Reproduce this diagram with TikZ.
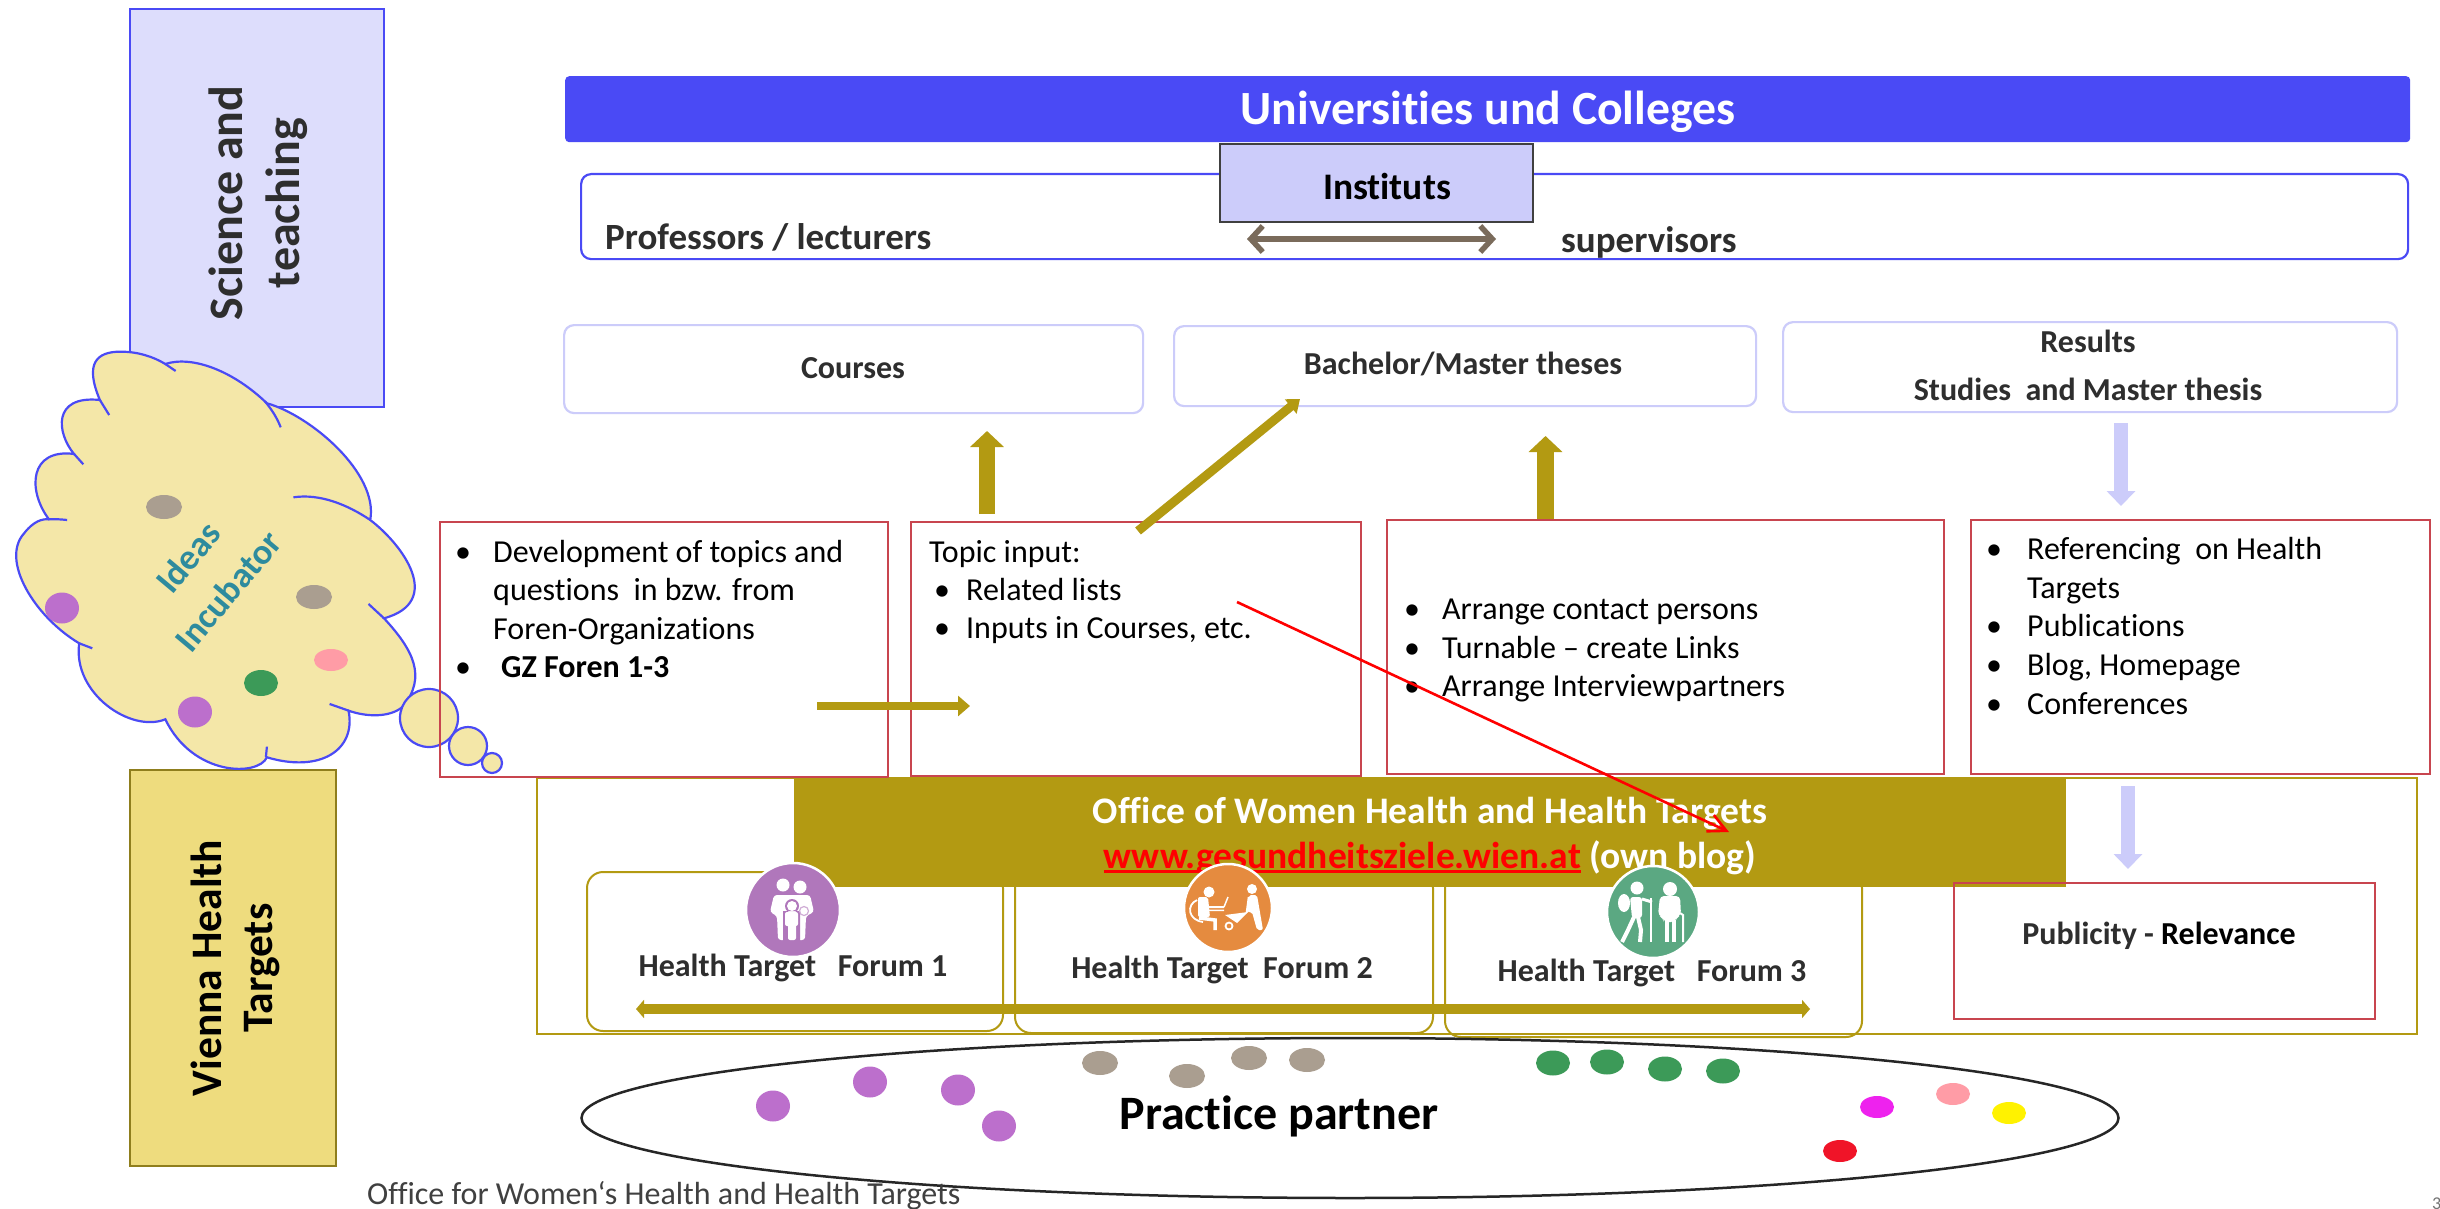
\documentclass[tikz,border=0pt]{standalone}
\usepackage{fontspec}
\setmainfont[Ligatures=NoCommon]{Carlito}
\usetikzlibrary{arrows.meta,shapes.geometric}
\definecolor{cblue}{HTML}{4A4AF5}
\definecolor{clav}{HTML}{CCCCFA}
\definecolor{csci}{HTML}{DDDDFC}
\definecolor{cvie}{HTML}{EEDC7E}
\definecolor{cviel}{HTML}{8F7E1D}
\definecolor{ccloud}{HTML}{F4E7A8}
\definecolor{colive}{HTML}{B39A12}
\definecolor{cred}{HTML}{C8454F}
\definecolor{cgray}{HTML}{AA9E90}
\definecolor{cpurple}{HTML}{BC6FCC}
\definecolor{cgreen}{HTML}{3C9A58}
\definecolor{cpink}{HTML}{FF9CA6}
\definecolor{cdark}{HTML}{2E2E2E}
\definecolor{cteal}{HTML}{2E8B9E}
\definecolor{cbrown}{HTML}{7A6B5B}
\definecolor{ciconp}{HTML}{B077BB}
\definecolor{cicono}{HTML}{E58B3F}
\definecolor{ciconv}{HTML}{5BA882}
\definecolor{cmag}{HTML}{EE22EE}
\definecolor{cbrred}{HTML}{F01428}
\newcommand\bul[1]{\makebox[#1][l]{\textbullet}}
\newcommand\fs[2]{\fontsize{#1}{#2}\selectfont}
\newcommand\thickul[1]{\setbox0\hbox{#1}\rlap{\rule[-5pt]{\wd0}{3pt}}\box0}
\tikzset{
 x=1pt,y=-1pt,
 lbl/.style={inner sep=0pt,font=\bfseries\fs{32}{48},text=cdark,align=center},
 body/.style={inner sep=0pt,anchor=north west,align=left,font=\fs{32}{38.3},text=black},
 redbox/.style={draw=cred,line width=2.2pt,fill=none},
 softbox/.style={draw=clav,line width=2.2pt,rounded corners=10pt},
 fbox/.style={draw=colive,line width=2pt,rounded corners=16pt},
 blockup/.style={line width=16.5pt,draw=colive,-{Triangle[length=16pt,width=33pt]}},
 blocklav/.style={line width=14pt,draw=clav,-{Triangle[length=15pt,width=28pt]}},
 cloudline/.style={draw=cblue,line width=2.2pt},
 bub/.style={circle,inner sep=0pt,fill=ccloud,draw=cblue,line width=2.2pt},
 icon/.style={circle,inner sep=0pt,draw=white,line width=2.5pt},
 ftxt/.style={inner sep=0pt,font=\bfseries\fs{32}{36},text=cdark},
}
\newcommand\D[5]{\path[fill=#5] (#1,#2) ellipse [x radius=#3,y radius=#4];}
\begin{document}
\begin{tikzpicture}
\useasboundingbox (0,0) rectangle (2440,1209);
\fill[white] (0,0) rectangle (2440,1209);
% left label boxes
\node[draw=cblue,line width=2pt,fill=csci,minimum width=254pt,minimum height=398pt,inner sep=0pt,anchor=north west] (sci) at (129,8) {};
\node[lbl,font=\bfseries\fs{48}{57},rotate=90] (scit) at (258,203) {Science and\\teaching};
\node[draw=cviel,line width=2pt,fill=cvie,minimum width=206pt,minimum height=396pt,inner sep=0pt,anchor=north west] (vie) at (129,769) {};
\node[lbl,font=\bfseries\fs{43.5}{51},text=black,rotate=90] (viet) at (235,968) {Vienna Health\\Targets};
% cloud
\begin{scope}[shift={(0,300)},xscale=0.3444,yscale=0.3333]
\path[fill=ccloud,cloudline]
 (140,655) .. controls (80,570) and (85,445) .. (215,462)
 .. controls (165,400) and (150,285) .. (290,300)
 .. controls (245,190) and (280,155) .. (350,155)
 .. controls (400,155) and (445,170) .. (480,192)
 .. controls (560,165) and (680,215) .. (775,310)
 .. controls (900,345) and (1100,520) .. (1075,660)
 .. controls (1170,735) and (1290,905) .. (1115,955)
 .. controls (1200,1050) and (1240,1130) .. (1170,1220)
 .. controls (1130,1255) and (1060,1250) .. (1012,1232)
 .. controls (1035,1350) and (930,1420) .. (775,1372)
 .. controls (750,1430) and (560,1430) .. (480,1258)
 .. controls (380,1300) and (210,1180) .. (230,1030)
 .. controls (100,950) and (0,780) .. (70,700)
 .. controls (85,680) and (110,655) .. (140,658) -- cycle;
\draw[cloudline] (140,658) .. controls (160,657) and (175,658) .. (195,660);
\draw[cloudline] (215,462) -- (242,493);
\draw[cloudline] (290,300) -- (317,345);
\draw[cloudline] (480,192) -- (510,213);
\draw[cloudline] (770,305) .. controls (790,330) and (805,355) .. (815,382);
\draw[cloudline] (852,592) .. controls (930,580) and (1010,615) .. (1075,660);
\draw[cloudline] (1070,912) -- (1115,955);
\draw[cloudline] (957,1212) -- (1012,1232);
\draw[cloudline] (775,1340) -- (772,1372);
\draw[cloudline] (230,1030) -- (268,1045);
\end{scope}
\node[bub,minimum size=58pt] (b1) at (429,718) {};
\node[bub,minimum size=38pt] (b2) at (468,746) {};
\node[bub,minimum size=20pt] (b3) at (492,763) {};
\D{164}{507}{18}{12}{cgray}\D{314}{597}{18}{12}{cgray}\D{331}{660}{17}{11}{cpink}
\D{261}{683}{17}{13}{cgreen}\D{195}{712}{17}{15.5}{cpurple}\D{62}{608}{17}{15.5}{cpurple}
\node[inner sep=0pt,align=center,text=cteal,font=\bfseries\fs{36}{52},rotate=50] (idea) at (208,574) {Ideas\\Incubator};
% header
\node[fill=cblue,rounded corners=4pt,minimum width=1845pt,minimum height=66pt,inner sep=0pt,anchor=north west] (uni) at (565,76) {};
\node[inner sep=0pt,text=white,font=\bfseries\fs{47.7}{50}] (unit) at (1488,112) {Universities und Colleges};
\node[draw=cblue,line width=2.2pt,rounded corners=10pt,minimum width=1827pt,minimum height=85pt,inner sep=0pt,anchor=north west] (prof) at (580,173) {};
\node[draw=black!75,line width=2pt,fill=clav,minimum width=313pt,minimum height=78pt,inner sep=0pt,anchor=north west] (inst) at (1219,143) {};
\node[lbl,text=black,font=\bfseries\fs{37.5}{40}] (instt) at (1387,186) {Instituts};
\node[lbl,font=\bfseries\fs{37}{40},anchor=mid west] (proft) at (605,247) {Professors / lecturers};
\node[lbl,font=\bfseries\fs{37}{40},anchor=mid west] (supt) at (1561,250) {supervisors};
\coordinate (dl) at (1247,239); \coordinate (dr) at (1496,239);
\draw[draw=cbrown,line width=5.5pt,{Straight Barb[length=12pt,width=26pt,line width=5.5pt]}-{Straight Barb[length=12pt,width=26pt,line width=5.5pt]}] (dl) -- (dr);
% soft boxes
\node[softbox,minimum width=579pt,minimum height=88pt,inner sep=0pt,anchor=north west] (cou) at (563,324) {};
\node[lbl] (coutxt) at (853,368) {Courses};
\node[softbox,minimum width=582pt,minimum height=80pt,inner sep=0pt,anchor=north west] (bac) at (1173,325) {};
\node[lbl] (bactxt) at (1463,364) {Bachelor/Master theses};
\node[softbox,minimum width=614pt,minimum height=90pt,inner sep=0pt,anchor=north west] (res) at (1782,321) {};
\node[lbl] (restxt) at (2088,365) {Results\\Studies\ \ and Master thesis};
% office frame
\node[draw=colive,line width=2pt,minimum width=1880pt,minimum height=256pt,inner sep=0pt,anchor=north west] (off) at (536,777) {};
\node[fbox,minimum width=416pt,minimum height=159pt,inner sep=0pt,anchor=north west] (f1) at (586,871) {};
\node[fbox,minimum width=418pt,minimum height=161pt,inner sep=0pt,anchor=north west] (f2) at (1014,871) {};
\node[fbox,minimum width=417pt,minimum height=165pt,inner sep=0pt,anchor=north west] (f3) at (1444,871) {};
\node[fill=colive,minimum width=1272pt,minimum height=110pt,inner sep=0pt,anchor=north west] (ban) at (794,777) {};
\node[inner sep=0pt,align=center,font=\bfseries\fs{37.5}{45},text=white] (bant) at (1430,836) {Office of Women Health and Health Targets\\{\color{red}\thickul{www.gesundheitsziele.wien.at}} (own blog)};
% red boxes
\node[redbox,minimum width=448pt,minimum height=255pt,inner sep=0pt,anchor=north west] (r1) at (439,521) {};
\node[redbox,minimum width=450pt,minimum height=254pt,inner sep=0pt,anchor=north west] (r2) at (910,521) {};
\node[redbox,minimum width=557pt,minimum height=254pt,inner sep=0pt,anchor=north west] (r3) at (1386,519) {};
\node[redbox,minimum width=459pt,minimum height=254pt,inner sep=0pt,anchor=north west] (r4) at (1970,519) {};
\node[redbox,minimum width=421pt,minimum height=136pt,inner sep=0pt,anchor=north west] (pub) at (1953,882) {};
\node[inner sep=0pt,font=\bfseries\fs{32}{36},text=cdark] (pubt) at (2159,936) {Publicity - \textcolor{black}{Relevance}};
\node[body] (r1t) at (455,540) {\bul{38pt}Development of topics and\\\hspace*{38pt}questions\ \ in bzw. from\\\hspace*{38pt}Foren-Organizations\\\bul{38pt}\hspace*{8pt}\textbf{GZ Foren 1-3}};
\node[body] (r2t) at (929,540) {Topic input:\\\hspace*{5pt}\bul{32pt}Related lists\\\hspace*{5pt}\bul{32pt}Inputs in Courses, etc.};
\node[body] (r3t) at (1404,599) {\bul{38pt}Arrange contact persons\\\bul{38pt}Turnable – create Links\\\bul{38pt}Arrange Interviewpartners};
\node[body,font=\fs{32}{38.7}] (r4t) at (1986,537) {\bul{41pt}Referencing\ \ on Health\\\hspace*{41pt}Targets\\\bul{41pt}Publications\\\bul{41pt}Blog, Homepage\\\bul{41pt}Conferences};
% arrows
\coordinate (a1s) at (987,514); \coordinate (a1e) at (987,431);
\coordinate (a2s) at (1545.5,519); \coordinate (a2e) at (1545.5,436);
\draw[blockup] (a1s) -- (a1e);
\draw[blockup] (a2s) -- (a2e);
\coordinate (a3s) at (1138,531); \coordinate (a3e) at (1300,399);
\draw[line width=9pt,draw=colive,-{Triangle[length=12pt,width=18pt]}] (a3s) -- (a3e);
\coordinate (a4s) at (817,706); \coordinate (a4e) at (970,706);
\draw[line width=8pt,draw=colive,-{Triangle[length=12pt,width=20pt]}] (a4s) -- (a4e);
\coordinate (a5s) at (2121,423); \coordinate (a5e) at (2121,506);
\draw[blocklav] (a5s) -- (a5e);
\coordinate (a6s) at (2128,786); \coordinate (a6e) at (2128,869);
\draw[blocklav] (a6s) -- (a6e);
\coordinate (a7s) at (636,1009); \coordinate (a7e) at (1810,1009);
\draw[line width=10pt,draw=colive,{Triangle[length=8pt,width=18pt]}-{Triangle[length=8pt,width=18pt]}] (a7s) -- (a7e);
\coordinate (a8s) at (1237,602); \coordinate (a8e) at (1729,832);
\draw[line width=2.6pt,draw=red,-{Straight Barb[length=18pt,width=18pt]}] (a8s) -- (a8e);
% icons
\node[icon,fill=ciconp,minimum size=94pt] (i1) at (793,910) {};
\node[icon,fill=cicono,minimum size=88pt] (i2) at (1228,908) {};
\node[icon,fill=ciconv,minimum size=92pt] (i3) at (1653,912) {};
\begin{scope}[white]
 % family
 \fill (783,885) circle (6.5); \fill (800,887) circle (6.5);
 \fill[rounded corners=3pt] (774,895) -- (810,895) -- (814,912) -- (806,916) -- (805,940) -- (778,940) -- (777,916) -- (770,912) -- cycle;
 \fill[ciconp] (792,906) circle (7) (783,911) rectangle (800,941);
 \fill (792,906) circle (5);
 \fill[rounded corners=2pt] (785,912) rectangle (798,926) (788,924) rectangle (796,940);
 \draw[ciconp!60!white,line width=1.2pt] (804,911) circle (4.5);
 % worker and wheelbarrow
 \fill (1209,892) circle (5.5); \fill (1252,889) circle (5);
 \fill[rounded corners=2pt] (1198,897) -- (1208,897) -- (1210,917) -- (1198,917) -- cycle;
 \fill (1208,906) rectangle (1224,908) (1208,909.5) rectangle (1224,911);
 \draw[line width=1.5pt] (1224,907) -- (1228,897);
 \draw[line width=3.5pt] (1199,918) -- (1215,920) -- (1215,930);
 \draw[line width=1.8pt] (1197,900) .. controls (1186,905) and (1188,920) .. (1203,922);
 \fill[rounded corners=2pt] (1249,895) -- (1257,895) -- (1263,930) -- (1257,930) -- (1252,912) -- (1247,912) -- cycle;
 \draw[line width=2.5pt] (1249,897) -- (1247,912);
 \fill (1225,915) -- (1248,912) -- (1237,923) -- cycle;
 \draw[line width=1.8pt] (1229,926) circle (3.5);
 \draw[line width=1.5pt] (1246,913) -- (1251,905);
 % walkers
 \fill (1637,888) circle (6.5); \fill (1670,889) circle (7);
 \fill (1624,903) ellipse [x radius=6,y radius=9];
 \fill[rounded corners=3pt] (1630,897) -- (1642,897) -- (1642,918) -- (1632,918) -- cycle;
 \draw[line width=4pt] (1634,917) -- (1628,930) -- (1622,942) (1638,917) -- (1641,930) -- (1640,942);
 \draw[line width=3pt] (1642,899) -- (1652,902);
 \draw[line width=2pt] (1651,898) -- (1651,942);
 \fill[rounded corners=4pt] (1660,896) -- (1680,896) -- (1681,915) -- (1676,918) -- (1675,922) -- (1664,922) -- (1663,918) -- (1658,915) -- cycle;
 \draw[line width=4pt] (1667,920) -- (1667,942) (1674,920) -- (1674,942);
 \draw[line width=2pt] (1680,913) -- (1683,915) -- (1683,942);
\end{scope}
\node[ftxt] (h1) at (793,968) {Health Target\ \ \ Forum 1};
\node[ftxt] (h2) at (1222,970) {Health Target\ \ Forum 2};
\node[ftxt] (h3) at (1652,973) {Health Target\ \ \ Forum 3};
% practice partner
\node[draw=black!85,line width=2.5pt,ellipse,minimum width=1537pt,minimum height=160pt,inner sep=0pt] (pp) at (1350,1118) {};
\node[inner sep=0pt,font=\bfseries\fs{48}{48},text=black] (ppt) at (1279,1116) {Practice partner};
\D{773}{1106}{17}{15.5}{cpurple}\D{870}{1082}{17}{15.5}{cpurple}\D{958}{1090}{17}{15.5}{cpurple}\D{999}{1126}{17}{15.5}{cpurple}
\D{1100}{1063}{18}{12}{cgray}\D{1187}{1076}{18}{12}{cgray}\D{1249}{1058}{18}{12}{cgray}\D{1307}{1060}{18}{12}{cgray}
\D{1553}{1063}{17}{12.5}{cgreen}\D{1607}{1062}{17}{12.5}{cgreen}\D{1665}{1069}{17}{12.5}{cgreen}\D{1723}{1071}{17}{12.5}{cgreen}
\D{1877}{1107}{17}{11}{cmag}\D{1840}{1151}{17}{11}{cbrred}\D{1953}{1094}{17}{11}{cpink}\D{2009}{1113}{17}{11}{yellow}
\node[inner sep=0pt,anchor=mid west,font=\fs{32}{36},text=black!75] (foot) at (367,1202) {Office for Women‘s Health and Health Targets};
\node[inner sep=0pt,anchor=north west,font=\fs{18}{20},text=black!55] (pnum) at (2432,1198) {3};
\end{tikzpicture}
\end{document}
